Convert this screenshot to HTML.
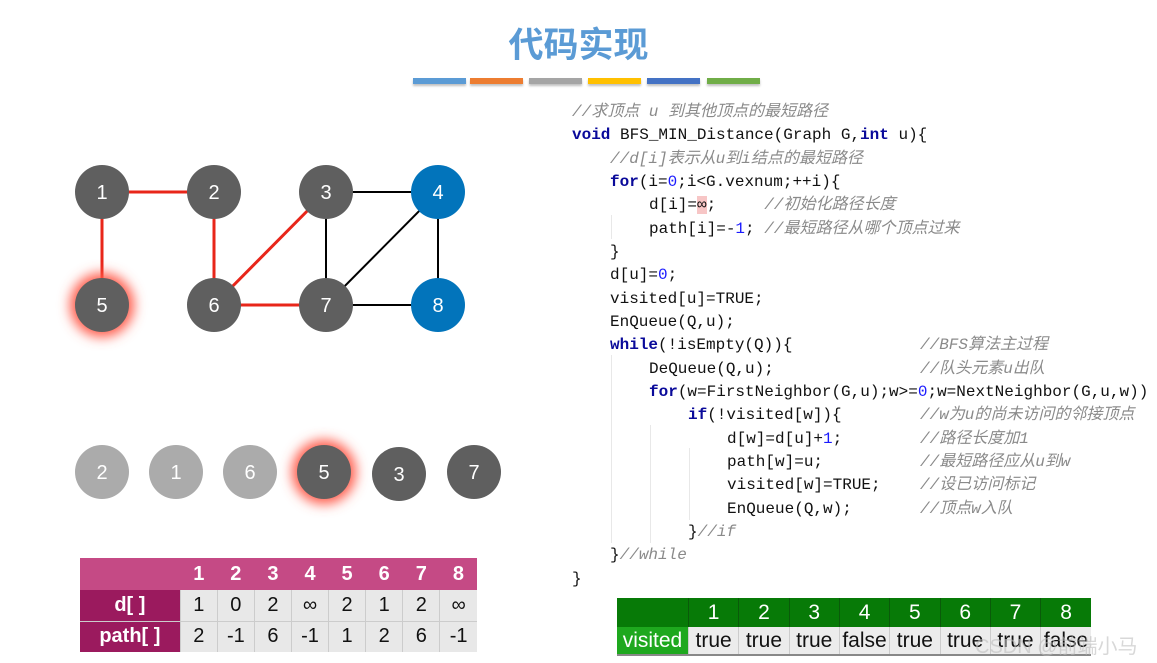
<!DOCTYPE html>
<html><head><meta charset="utf-8"><style>
body{margin:0;width:1157px;height:663px;background:#fff;position:relative;overflow:hidden;font-family:"Liberation Sans","Noto Sans CJK SC",sans-serif}
.t{position:absolute;left:0;width:1157px;top:17px;text-align:center;font-size:35px;font-weight:bold;color:#5b9bd5;font-family:"Liberation Sans","Noto Sans CJK SC",sans-serif}
.bar{position:absolute;top:78px;height:6px;width:53px;box-shadow:0 2px 2px rgba(0,0,0,.25)}
.code{position:absolute;font-family:"Liberation Mono","Noto Sans CJK SC",monospace;font-size:16px;color:#111;white-space:pre;line-height:20px;margin-top:2px}
.k{color:#0a0a9a;font-weight:bold}.n{color:#1a1aff}.c{color:#8a8a8a;font-style:italic}
.g{position:absolute;width:1px;background:#e8e8e8}
table{position:absolute;border-collapse:collapse;font-family:"Liberation Sans",sans-serif}
td{padding:0;text-align:center}
</style></head><body>
<div class="t">代码实现</div>
<div class="bar" style="left:413px;background:#5b9bd5"></div>
<div class="bar" style="left:470px;background:#ed7d31"></div>
<div class="bar" style="left:529px;background:#a5a5a5"></div>
<div class="bar" style="left:588px;background:#ffc000"></div>
<div class="bar" style="left:647px;background:#4472c4"></div>
<div class="bar" style="left:707px;background:#70ad47"></div>

<svg style="position:absolute;left:0;top:0" width="560" height="560">
<defs><filter id="gl" x="-1" y="-1" width="3" height="3"><feGaussianBlur stdDeviation="6"/></filter></defs>
<g stroke-width="3" stroke="#e8261a">
<line x1="102" y1="192" x2="214" y2="192"/><line x1="102" y1="192" x2="102" y2="305"/>
<line x1="214" y1="192" x2="214" y2="305"/><line x1="214" y1="305" x2="326" y2="192"/>
<line x1="214" y1="305" x2="326" y2="305"/></g>
<g stroke-width="2" stroke="#000">
<line x1="326" y1="192" x2="438" y2="192"/><line x1="326" y1="192" x2="326" y2="305"/>
<line x1="326" y1="305" x2="438" y2="192"/><line x1="438" y1="192" x2="438" y2="305"/>
<line x1="326" y1="305" x2="438" y2="305"/></g>
<circle cx="102" cy="305" r="32" fill="#ff5a4a" filter="url(#gl)"/>
<circle cx="324" cy="472" r="32" fill="#ff5a4a" filter="url(#gl)"/>
<g font-family="Liberation Sans" font-size="20" fill="#fff" text-anchor="middle">
<circle cx="102" cy="192" r="27" fill="#5f5f5f"/><text x="102" y="199">1</text>
<circle cx="214" cy="192" r="27" fill="#5f5f5f"/><text x="214" y="199">2</text>
<circle cx="326" cy="192" r="27" fill="#5f5f5f"/><text x="326" y="199">3</text>
<circle cx="438" cy="192" r="27" fill="#0274bb"/><text x="438" y="199">4</text>
<circle cx="102" cy="305" r="27" fill="#5f5f5f"/><text x="102" y="312">5</text>
<circle cx="214" cy="305" r="27" fill="#5f5f5f"/><text x="214" y="312">6</text>
<circle cx="326" cy="305" r="27" fill="#5f5f5f"/><text x="326" y="312">7</text>
<circle cx="438" cy="305" r="27" fill="#0274bb"/><text x="438" y="312">8</text>
<circle cx="102" cy="472" r="27" fill="#ababab"/><text x="102" y="479">2</text>
<circle cx="176" cy="472" r="27" fill="#ababab"/><text x="176" y="479">1</text>
<circle cx="250" cy="472" r="27" fill="#ababab"/><text x="250" y="479">6</text>
<circle cx="324" cy="472" r="27" fill="#5f5f5f"/><text x="324" y="479">5</text>
<circle cx="399" cy="474" r="27" fill="#5f5f5f"/><text x="399" y="481">3</text>
<circle cx="474" cy="472" r="27" fill="#5f5f5f"/><text x="474" y="479">7</text>
</g></svg>

<div class="g" style="left:611px;top:215px;height:24px"></div>
<div class="g" style="left:611px;top:355px;height:188px"></div>
<div class="g" style="left:650px;top:425px;height:118px"></div>
<div class="g" style="left:689px;top:448px;height:72px"></div>

<div class="code" style="left:572px;top:100px"><span class="c">//求顶点 u 到其他顶点的最短路径</span></div>
<div class="code" style="left:572px;top:123px"><span class="k">void</span> BFS_MIN_Distance(Graph G,<span class="k">int</span> u){</div>
<div class="code" style="left:610px;top:147px"><span class="c">//d[i]表示从u到i结点的最短路径</span></div>
<div class="code" style="left:610px;top:170px"><span class="k">for</span>(i=<span class="n">0</span>;i&lt;G.vexnum;++i){</div>
<div class="code" style="left:649px;top:193px">d[i]=<span style="background:#f7c6c6">∞</span>;     <span class="c">//初始化路径长度</span></div>
<div class="code" style="left:649px;top:217px">path[i]=-<span class="n">1</span>; <span class="c">//最短路径从哪个顶点过来</span></div>
<div class="code" style="left:610px;top:240px">}</div>
<div class="code" style="left:610px;top:263px">d[u]=<span class="n">0</span>;</div>
<div class="code" style="left:610px;top:287px">visited[u]=TRUE;</div>
<div class="code" style="left:610px;top:310px">EnQueue(Q,u);</div>
<div class="code" style="left:610px;top:333px"><span class="k">while</span>(!isEmpty(Q)){</div>
<div class="code" style="left:649px;top:357px">DeQueue(Q,u);</div>
<div class="code" style="left:649px;top:380px"><span class="k">for</span>(w=FirstNeighbor(G,u);w&gt;=<span class="n">0</span>;w=NextNeighbor(G,u,w))</div>
<div class="code" style="left:688px;top:403px"><span class="k">if</span>(!visited[w]){</div>
<div class="code" style="left:727px;top:427px">d[w]=d[u]+<span class="n">1</span>;</div>
<div class="code" style="left:727px;top:450px">path[w]=u;</div>
<div class="code" style="left:727px;top:473px">visited[w]=TRUE;</div>
<div class="code" style="left:727px;top:497px">EnQueue(Q,w);</div>
<div class="code" style="left:688px;top:520px">}<span class="c">//if</span></div>
<div class="code" style="left:610px;top:543px">}<span class="c">//while</span></div>
<div class="code" style="left:572px;top:567px">}</div>
<div class="code" style="left:920px;top:333px"><span class="c">//BFS算法主过程</span></div>
<div class="code" style="left:920px;top:357px"><span class="c">//队头元素u出队</span></div>
<div class="code" style="left:920px;top:403px"><span class="c">//w为u的尚未访问的邻接顶点</span></div>
<div class="code" style="left:920px;top:427px"><span class="c">//路径长度加1</span></div>
<div class="code" style="left:920px;top:450px"><span class="c">//最短路径应从u到w</span></div>
<div class="code" style="left:920px;top:473px"><span class="c">//设已访问标记</span></div>
<div class="code" style="left:920px;top:497px"><span class="c">//顶点w入队</span></div>

<table style="left:80px;top:558px;width:397px;font-size:20px">
<colgroup><col style="width:100px"><col span="8" style="width:37px"></colgroup>
<tr style="height:32px;background:#c54a85;color:#fff;font-weight:bold"><td></td><td>1</td><td>2</td><td>3</td><td>4</td><td>5</td><td>6</td><td>7</td><td>8</td></tr>
<tr style="height:31px;background:#e8e8e8;color:#111"><td style="background:#9b1a5e;color:#fff;font-weight:bold">d[ ]</td><td style="border-left:1px solid #ccc">1</td><td style="border-left:1px solid #ccc">0</td><td style="border-left:1px solid #ccc">2</td><td style="border-left:1px solid #ccc">∞</td><td style="border-left:1px solid #ccc">2</td><td style="border-left:1px solid #ccc">1</td><td style="border-left:1px solid #ccc">2</td><td style="border-left:1px solid #ccc">∞</td></tr>
<tr style="height:31px;background:#e8e8e8;color:#111;border-top:1px solid #ccc"><td style="background:#9b1a5e;color:#fff;font-weight:bold">path[ ]</td><td style="border-left:1px solid #ccc">2</td><td style="border-left:1px solid #ccc">-1</td><td style="border-left:1px solid #ccc">6</td><td style="border-left:1px solid #ccc">-1</td><td style="border-left:1px solid #ccc">1</td><td style="border-left:1px solid #ccc">2</td><td style="border-left:1px solid #ccc">6</td><td style="border-left:1px solid #ccc">-1</td></tr>
</table>

<table style="left:617px;top:598px;width:474px;font-size:21px">
<colgroup><col style="width:71px"><col span="8" style="width:50px"></colgroup>
<tr style="height:29px;background:#077a07;color:#fff"><td></td><td style="border-left:1px solid #0a5a0a">1</td><td style="border-left:1px solid #0a5a0a">2</td><td style="border-left:1px solid #0a5a0a">3</td><td style="border-left:1px solid #0a5a0a">4</td><td style="border-left:1px solid #0a5a0a">5</td><td style="border-left:1px solid #0a5a0a">6</td><td style="border-left:1px solid #0a5a0a">7</td><td style="border-left:1px solid #0a5a0a">8</td></tr>
<tr style="height:28px;background:#ececec;color:#111;border-bottom:2px solid #888"><td style="background:#1ea81e;color:#fff">visited</td><td style="border-left:1px solid #ccc">true</td><td style="border-left:1px solid #ccc">true</td><td style="border-left:1px solid #ccc">true</td><td style="border-left:1px solid #ccc">false</td><td style="border-left:1px solid #ccc">true</td><td style="border-left:1px solid #ccc">true</td><td style="border-left:1px solid #ccc">true</td><td style="border-left:1px solid #ccc">false</td></tr>
</table>
<div style="position:absolute;left:975px;top:630px;font-size:20px;color:rgba(190,190,190,.6);font-family:'Liberation Sans','Noto Sans CJK SC',sans-serif">CSDN @前端小马</div>
</body></html>
